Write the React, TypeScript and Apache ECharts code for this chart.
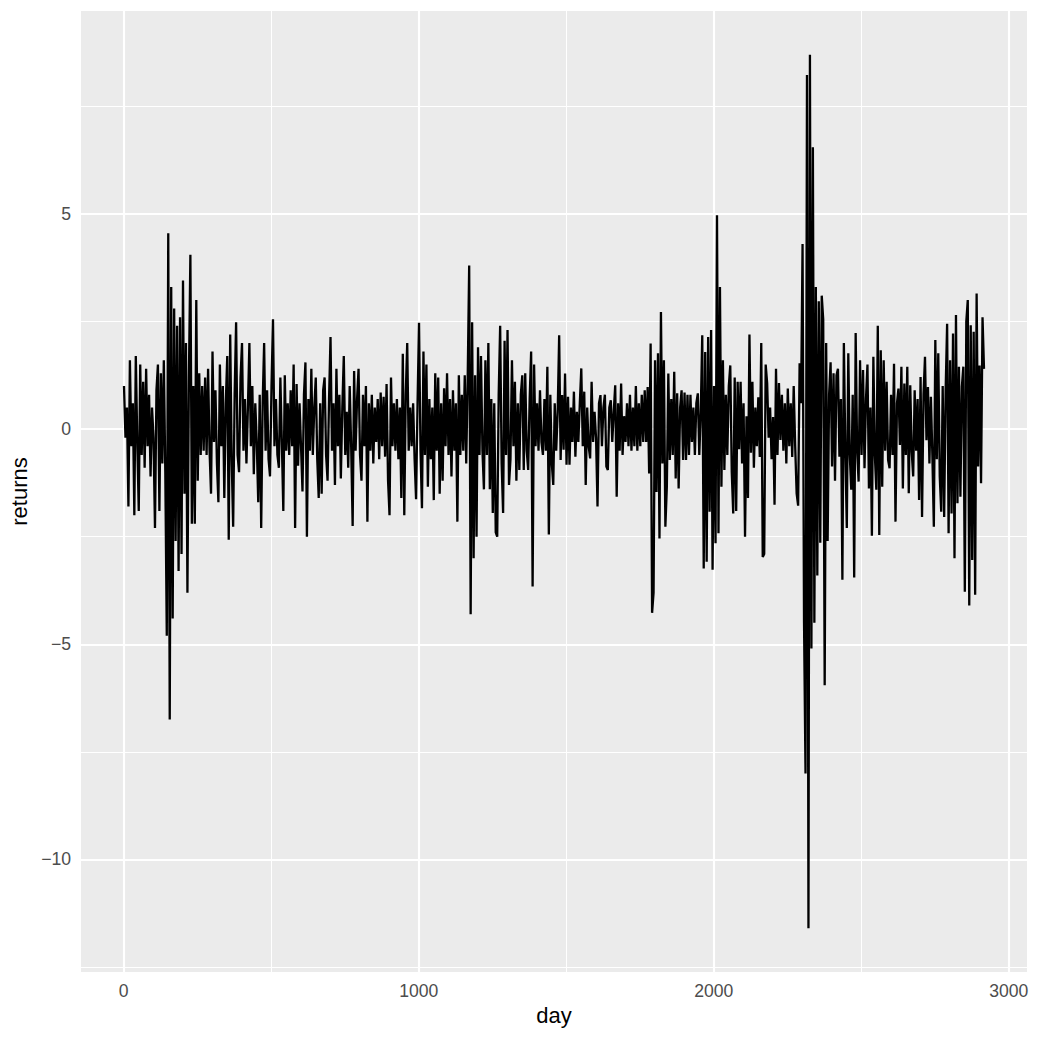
import React, { useEffect, useRef } from "react";
import * as echarts from "echarts";

// Day index of the first read-off value and spacing (days) between read-off values
const DAY_START = 1;
const DAY_STEP = 5;

// Daily returns in ten consecutive stretches
const returnsA = [1.0,-0.2,0.5,-1.8,1.6,-0.4,0.6,-2.0,1.7,-0.3,-1.9,1.5,-0.6,1.1,-0.9,1.4,-0.4,0.8,-1.1,0.5,-0.2,-2.3,0.9,1.5,-1.9,1.3,-0.8,1.6,-1.0,-4.8,4.55,-6.75,3.3,-4.4,2.8,-2.6,2.4,-3.3,2.6,-2.9,3.45,-1.5,2.0,-3.8,1.2,4.05,-2.2,1.0,-2.2,3.0,-1.2,1.3,-0.6,1.0,-0.5,1.2,-0.6];
const returnsB = [1.4,-0.5,-1.5,1.8,-0.3,0.9,-0.8,-1.7,1.5,-0.4,1.0,-1.6,0.6,1.7,-2.57,2.2,-0.7,-2.27,0.8,2.48,-0.6,-1.0,1.2,2.0,-0.5,0.7,-0.8,0.5,2.0,-0.4,1.0,-1.05,0.6,-0.3,-1.7,0.8,-2.3,0.6,2.0,-0.5,0.9,-0.7,-1.1,1.0,2.55,-0.4,0.7,-0.6,-0.9,1.2,-0.3,-1.9,1.25,-0.5,0.6,-0.6,0.9,-0.4,1.5,-2.3];
const returnsC = [1.05,-0.85,0.6,-0.4,-1.45,0.8,1.55,-2.5,0.7,-0.5,1.4,-0.6,0.5,1.2,-0.7,-1.6,0.6,-1.5,0.9,1.2,-0.6,-1.2,0.7,2.14,-0.5,0.6,-1.3,1.4,-0.4,0.8,-1.15,0.5,1.7,-0.6,0.4,-0.9,1.0,-0.4,-2.25,1.35,-0.5,0.7,1.4,-0.6,-1.2,0.8,-0.4,1.0,-2.15,0.6,-0.5,0.8,-0.8,0.5,-0.3,0.7,-0.7,0.85,-0.4];
const returnsD = [0.75,-0.64,1.05,-1.2,-2.0,1.2,-0.4,0.6,-0.5,0.7,-0.7,0.5,-1.6,1.75,-2.0,0.8,2.0,-0.5,0.5,-0.4,0.6,-0.7,-1.63,0.6,2.47,-0.5,-1.84,1.8,-0.6,1.5,-1.34,0.7,-0.7,0.5,-1.65,1.3,-0.5,1.2,-1.5,0.6,-1.2,0.95,-0.4,1.3,-0.6,0.7,-1.1,0.9,-0.5,0.6,-2.15,1.25,-0.6,0.8,-0.5,1.25,-0.8,1.2,3.8,-4.3];
const returnsE = [2.48,-3.0,1.25,-2.5,1.9,-0.6,1.7,-0.5,-1.4,1.6,-0.6,2.0,-1.4,0.7,-1.95,0.6,-2.4,-2.5,0.8,2.4,-0.8,-1.95,2.05,-0.6,2.3,-1.3,-0.7,1.6,-0.4,1.1,-1.2,0.6,-0.95,0.8,1.25,-0.95,1.3,-0.5,-0.95,0.7,1.8,-3.66,1.5,-0.4,0.6,-0.5,0.9,-0.3,-0.6,0.7,-0.5,1.45,-2.45,0.8,-0.8,-1.3,0.6,-0.5,0.4];
const returnsF = [2.18,-0.72,0.79,-0.48,1.29,-0.83,0.75,-0.83,0.5,-0.3,0.87,-0.64,0.4,-0.3,0.6,1.41,-0.4,0.87,-1.3,0.5,-0.4,-0.68,1.1,-0.3,0.4,-0.2,-1.8,0.6,0.79,-0.4,0.5,0.8,-0.87,-0.95,0.5,0.67,-0.3,0.4,1.02,-1.57,0.6,-0.5,1.06,-0.6,0.3,-0.3,0.6,-0.4,0.8,-0.5,0.5,-0.4,1.0,-0.5,0.6,-0.4,0.8,-0.3,0.9,-0.3];
const returnsG = [0.98,-1.03,1.99,-4.27,-3.8,1.6,-1.46,1.76,-2.54,2.72,-0.8,1.6,-2.27,-1.34,1.29,-0.72,0.7,-0.6,1.33,-1.15,0.83,-1.38,0.5,0.9,-0.72,0.85,-0.72,0.8,-0.6,0.8,-0.3,0.5,-0.6,0.6,0.83,-0.6,0.4,2.18,-3.24,1.79,-3.08,2.14,-1.92,2.3,-3.27,1.0,-2.65,4.97,-2.42,3.3,-1.34,1.6,-0.95,0.8,-0.6,1.0,1.48,-1.0,-1.96];
const returnsH = [1.2,-1.9,1.1,-0.47,1.1,-0.8,0.6,-2.5,0.3,-1.6,2.2,-0.55,1.1,-0.9,0.5,-0.4,0.74,-0.65,2.0,-2.97,-2.9,1.5,1.07,-0.2,0.5,-0.7,0.28,-1.76,1.4,-0.6,1.07,-0.25,0.8,-0.5,0.6,-0.8,0.94,-0.4,0.6,-0.65,1.0,-0.4,-1.5,-1.78,1.53,0.6,4.3,-4.5,-8.0,8.23,-11.6,8.7,-5.1,6.55,-4.5,3.3,-3.4,2.97,-2.64,3.1];
const returnsI = [2.55,-5.95,2.0,-2.6,0.8,1.55,-0.87,1.3,-1.2,1.25,1.4,-0.64,0.7,-3.5,2.0,-0.5,-2.3,1.76,-0.6,-1.41,0.8,-3.45,2.23,-0.5,-1.22,1.6,-0.6,1.37,-0.91,0.7,1.5,-1.38,0.5,-2.48,1.68,-0.6,-1.41,2.4,-2.46,1.83,-1.34,1.6,-0.5,1.1,-0.72,-0.91,0.8,-0.6,1.52,-2.15,0.6,0.94,-0.37,1.45,-1.38,1.06,-0.6,1.45,-1.49];
const returnsJ = [1.02,-0.53,-1.1,0.9,-0.5,0.7,-1.65,1.21,-2.04,0.8,1.68,-0.26,0.98,-0.8,0.75,-0.6,-2.27,2.07,-0.7,1.76,-1.1,-1.92,1.0,-2.04,0.9,2.45,-2.42,1.6,-1.96,2.22,-3.0,2.65,-1.72,1.45,-1.57,0.98,1.45,-3.78,2.5,3.0,-4.1,2.41,-3.04,2.26,-3.85,3.15,-0.87,1.48,-1.26,2.6,1.4];

// Axis breaks
const xMajorTicks = [0, 1000, 2000, 3000];
const xMinorBreaks = [500, 1500, 2500];
const yMajorTicks = [-10, -5, 0, 5];
const yMinorBreaks = [-12.5, -7.5, -2.5, 2.5, 7.5];

const returnsAll = [
  ...returnsA, ...returnsB, ...returnsC, ...returnsD, ...returnsE,
  ...returnsF, ...returnsG, ...returnsH, ...returnsI, ...returnsJ,
];
const points = returnsAll.map((v, i) => [DAY_START + i * DAY_STEP, v]);

function expand(lo: number, hi: number): [number, number] {
  const d = (hi - lo) * 0.05;
  return [lo - d, hi + d];
}

export default function App() {
  const ref = useRef<HTMLDivElement>(null);
  useEffect(() => {
    if (!ref.current) return;
    const chart = echarts.init(ref.current, null, { renderer: "svg" });
    const days = points.map((p) => p[0]);
    const [xMin, xMax] = expand(Math.min(...days), Math.max(...days));
    const [yMin, yMax] = expand(Math.min(...returnsAll), Math.max(...returnsAll));
    const font = "'Liberation Sans', Arial, Helvetica, sans-serif";
    const minus = (v: number) => String(v).replace("-", "\u2212");
    const gl = (key: string, value: number, width: number) => ({
      [key]: value,
      lineStyle: { color: "#FFFFFF", width, type: "solid" },
    });
    const gridLines = [
      ...xMinorBreaks.map((v) => gl("xAxis", v, 1.07)),
      ...yMinorBreaks.map((v) => gl("yAxis", v, 1.07)),
      ...xMajorTicks.map((v) => gl("xAxis", v, 2.13)),
      ...yMajorTicks.map((v) => gl("yAxis", v, 2.13)),
    ];
    chart.setOption({
      animation: false,
      backgroundColor: "#FFFFFF",
      grid: {
        left: 80, right: 11, top: 11, bottom: 66,
        show: true, backgroundColor: "#EBEBEB", borderWidth: 0,
      },
      xAxis: {
        type: "value", min: xMin, max: xMax,
        name: "day", nameLocation: "middle", nameGap: 30,
        nameTextStyle: { color: "#000000", fontSize: 22, fontFamily: font },
        axisLine: { show: false },
        axisTick: { show: true, customValues: xMajorTicks, length: 5.5, lineStyle: { color: "#333333", width: 2 } },
        axisLabel: { show: true, customValues: xMajorTicks, color: "#4D4D4D", fontSize: 17.6, fontFamily: font, margin: 10, formatter: minus },
        splitLine: { show: false },
        minorSplitLine: { show: false },
      },
      yAxis: {
        type: "value", min: yMin, max: yMax,
        name: "returns", nameLocation: "middle", nameGap: 51,
        nameTextStyle: { color: "#000000", fontSize: 22, fontFamily: font },
        axisLine: { show: false },
        axisTick: { show: true, customValues: yMajorTicks, length: 5.5, lineStyle: { color: "#333333", width: 2 } },
        axisLabel: { show: true, customValues: yMajorTicks, color: "#4D4D4D", fontSize: 17.6, fontFamily: font, margin: 10, formatter: minus },
        splitLine: { show: false },
        minorSplitLine: { show: false },
      },
      series: [
        {
          type: "line", data: [], silent: true, z: 1, zlevel: 0,
          markLine: {
            silent: true, z: 1, symbol: ["none", "none"], label: { show: false },
            animation: false, data: gridLines,
          },
        },
        {
          type: "line", data: points, showSymbol: false, symbol: "none",
          silent: true, z: 10,
          lineStyle: { color: "#000000", width: 2.3 },
        },
      ],
    });
    return () => chart.dispose();
  }, []);
  return (
    <div
      ref={ref}
      style={{ position: "fixed", left: 0, top: 0, width: 1038, height: 1038, background: "#FFFFFF" }}
    />
  );
}
